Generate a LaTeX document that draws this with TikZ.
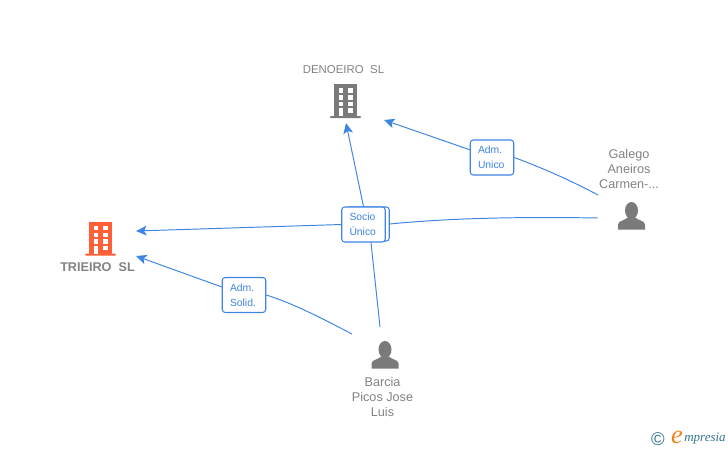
\documentclass[tikz,border=0pt]{standalone}
\usepackage{fontspec}
\setmainfont{Liberation Sans}
\newfontfamily\logofont{Liberation Serif}
\usetikzlibrary{arrows.meta}
\definecolor{linkblue}{RGB}{62,132,226}
\definecolor{labelgray}{RGB}{130,130,130}
\definecolor{icongray}{RGB}{122,122,122}
\definecolor{firmorange}{RGB}{255,96,56}
\definecolor{logoteal}{RGB}{50,115,140}
\definecolor{logoorange}{RGB}{240,130,30}
\tikzset{
  link/.style = {linkblue, line width=.55pt},
  linkto/.style = {link, -{Stealth[length=6pt,width=5.5pt,inset=1.4pt]}},
  rolebox/.style = {draw=linkblue, line width=.6pt, rounded corners=1.7pt, fill=white, text=linkblue,
    minimum width=43.5*.02cm, minimum height=35*.02cm, inner sep=0pt, align=left,
    font=\fontsize{5.9}{8.5}\selectfont},
  personlabel/.style = {text=labelgray, align=center, inner sep=0pt, font=\fontsize{7.2}{8.5}\selectfont},
  building/.pic = {
    \fill[pic actions] (-11.5,0) rectangle (11.5,-32);
    \fill[pic actions, rounded corners=.5pt] (-15.5,2) rectangle (15.5,0);
    \fill[white] (-7,0) rectangle (-2.5,-8);
    \foreach \y in {-28,-21,-14.5}
      \fill[white] (-7,\y) rectangle (-2.5,\y+4.5);
    \foreach \y in {-28,-21,-14.5,-8}
      \fill[white] (2.5,\y) rectangle (7,\y+4.5);
  },
  person/.pic = {
    \fill[pic actions] (-13.5,0) -- (-13.5,-5) .. controls (-13.5,-9) and (-6,-9) .. (-4,-12)
      -- (4,-12) .. controls (6,-9) and (13.5,-9) .. (13.5,-5) -- (13.5,0) -- cycle;
    \fill[pic actions] (0,-19) ellipse (6.5 and 8.5);
  }
}
\begin{document}
\begin{tikzpicture}[x=.02cm, y=-.02cm]
  \useasboundingbox (0,0) rectangle (728,450);

  % companies
  \pic[fill=icongray] (denoeiro) at (345.5,116) {building};
  \pic[fill=firmorange] (trieiro) at (100.5,253.5) {building};
  \node (denoeirolabel) at (343.5,70) [text=labelgray, inner sep=0pt, font=\fontsize{6.5}{8}\selectfont] {DENOEIRO\ \ SL};
  \node (trieirolabel) at (97.5,267.5) [text=labelgray, inner sep=0pt, font=\fontsize{7.2}{8}\selectfont\bfseries] {TRIEIRO\ \ SL};

  % people
  \pic[fill=icongray] (galego) at (631.5,229.5) {person};
  \pic[fill=icongray] (barcia) at (385,368.5) {person};
  \node (galegolabel) at (629,169) [personlabel] {Galego\\Aneiros\\Carmen-...};
  \node (barcialabel) at (382.5,397) [personlabel] {Barcia\\Picos Jose\\Luis};

  % free ends of the connectors
  \coordinate (denoeirobottom) at (346,123);
  \coordinate (denoeiroright) at (384,120);
  \coordinate (trieirotop) at (136,231);
  \coordinate (trieirobottom) at (136,256);
  \coordinate (galegotop) at (598,195);
  \coordinate (galegoleft) at (598,218);
  \coordinate (barciatop) at (380,327);
  \coordinate (barcialeft) at (352,334);

  % role boxes
  \node (unico) at (492,157.5) [rolebox, text width=28*.02cm] {Adm.\\Unico};
  \node (solid) at (244,295) [rolebox, text width=28*.02cm] {Adm.\\Solid.};
  \node (socioback) at (367.5,224) [rolebox, minimum height=34*.02cm] {};
  \node (socio) at (363.5,224.5) [rolebox, text width=28*.02cm] {Socio\\Único};

  % connectors
  \draw [linkto] (unico) -- (denoeiroright);
  \draw [link] (galegotop) .. controls (570,180) and (540,167) .. (unico.east);
  \draw [linkto] (solid) -- (trieirobottom);
  \draw [link] (barcialeft) .. controls (325,320) and (295,304) .. (solid.east);
  \draw [linkto] (socio.north) -- (denoeirobottom);
  \draw [linkto] (socio.west) -- (trieirotop);
  \draw [link] (socioback.east) .. controls (460,217) and (540,217) .. (galegoleft);
  \draw [link] (socio.south -| 371,0) -- (barciatop);

  % logo
  \node (logomark) at (658,439) [text=logoteal, inner sep=0pt, font=\fontsize{10.5}{12}\selectfont] {©};
  \node (logoe) at (677,437) [text=logoorange, inner sep=0pt, font=\logofont\fontsize{15}{16}\selectfont\itshape] {e};
  \node (logotext) at (705,439) [text=logoteal, inner sep=0pt, font=\logofont\fontsize{7.4}{9}\selectfont\itshape] {mpresia};
\end{tikzpicture}
\end{document}
